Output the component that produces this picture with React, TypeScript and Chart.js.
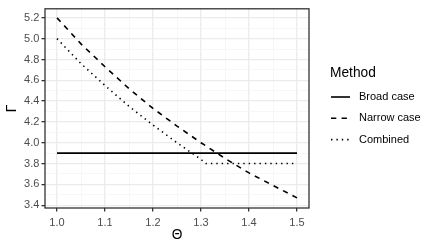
import React, { useEffect, useRef } from "react";
import { Chart, registerables } from "chart.js";

Chart.register(...registerables);

// ---- data ----
const thetaGrid = [1.0, 1.05, 1.1, 1.15, 1.2, 1.25, 1.3, 1.35, 1.4, 1.45, 1.5];
const broadCase = [3.9, 3.9, 3.9, 3.9, 3.9, 3.9, 3.9, 3.9, 3.9, 3.9, 3.9];
const narrowCase = [5.2, 4.95, 4.73, 4.52, 4.33, 4.16, 4.0, 3.85, 3.71, 3.59, 3.47];
const thetaCombined = [1.0, 1.05, 1.1, 1.15, 1.2, 1.25, 1.3, 1.31, 1.35, 1.4, 1.45, 1.5];
const combined = [5.0, 4.76, 4.55, 4.35, 4.17, 4.0, 3.84, 3.8, 3.8, 3.8, 3.8, 3.8];

const seriesNames = ["Broad case", "Narrow case", "Combined"];
const legendTitle = "Method";
const xTitle = "Θ";
const yTitle = "Γ";

const xMajor = [1.0, 1.1, 1.2, 1.3, 1.4, 1.5];
const xMinor = [1.05, 1.15, 1.25, 1.35, 1.45];
const yMajor = [3.4, 3.6, 3.8, 4.0, 4.2, 4.4, 4.6, 4.8, 5.0, 5.2];
const yMinor = [3.5, 3.7, 3.9, 4.1, 4.3, 4.5, 4.7, 4.9, 5.1];

const FONT = '"Liberation Sans", Arial, Helvetica, sans-serif';
const dashes: number[][] = [[], [5.3, 5.3], [1.4, 4]];

const isMajor = (arr: number[], v: number) => arr.some((m) => Math.abs(m - v) < 1e-6);

export default function App() {
  const ref = useRef<HTMLCanvasElement | null>(null);

  useEffect(() => {
    document.body.style.margin = "0";
    const canvas = ref.current!;
    const toPts = (xs: number[], ys: number[]) => xs.map((x, i) => ({ x, y: ys[i] }));

    const overlay = {
      id: "ggOverlay",
      afterDraw(chart: any) {
        const { ctx, chartArea } = chart;
        const { left, right, top, bottom } = chartArea;
        ctx.save();
        // panel border
        ctx.strokeStyle = "#333333";
        ctx.lineWidth = 1.3;
        ctx.setLineDash([]);
        ctx.strokeRect(left, top, right - left, bottom - top);
        // axis titles
        ctx.fillStyle = "#000000";
        ctx.font = `13.75px ${FONT}`;
        ctx.textAlign = "center";
        ctx.textBaseline = "middle";
        ctx.fillText(xTitle, (left + right) / 2, 235);
        ctx.save();
        ctx.translate(12.5, (top + bottom) / 2);
        ctx.rotate(-Math.PI / 2);
        ctx.fillText(yTitle, 0, 0);
        ctx.restore();
        // legend
        ctx.textAlign = "left";
        ctx.fillText(legendTitle, 330, 73);
        ctx.font = `11px ${FONT}`;
        chart.data.datasets.forEach((ds: any, i: number) => {
          const y = 97 + i * 21.3;
          ctx.strokeStyle = "#000000";
          ctx.lineWidth = 1.6;
          ctx.setLineDash(dashes[i]);
          ctx.beginPath();
          ctx.moveTo(331, y);
          ctx.lineTo(350, y);
          ctx.stroke();
          ctx.setLineDash([]);
          ctx.fillText(ds.label, 359, y);
        });
        ctx.restore();
      },
    };

    const chart = new Chart(canvas, {
      type: "line",
      data: {
        datasets: [
          { label: seriesNames[0], data: toPts(thetaGrid, broadCase), borderDash: dashes[0] },
          { label: seriesNames[1], data: toPts(thetaGrid, narrowCase), borderDash: dashes[1] },
          { label: seriesNames[2], data: toPts(thetaCombined, combined), borderDash: dashes[2] },
        ].map((d) => ({
          ...d,
          borderColor: "#000000",
          backgroundColor: "#000000",
          borderWidth: 1.6,
          pointRadius: 0,
          tension: 0,
          fill: false,
        })),
      },
      options: {
        responsive: false,
        animation: false,
        devicePixelRatio: 1,
        layout: { padding: { top: 6, right: 125, left: 0, bottom: 0 } },
        plugins: { legend: { display: false }, tooltip: { enabled: false }, title: { display: false } },
        scales: {
          x: {
            type: "linear",
            min: 0.975,
            max: 1.525,
            afterBuildTicks: (s: any) => {
              s.ticks = [...xMajor, ...xMinor].sort((a, b) => a - b).map((v) => ({ value: v }));
            },
            afterFit: (s: any) => {
              s.height = 41;
            },
            border: { display: false },
            grid: {
              color: (c: any) => (c.tick && isMajor(xMajor, c.tick.value) ? "#EBEBEB" : "#F3F3F3"),
              lineWidth: (c: any) => (c.tick && isMajor(xMajor, c.tick.value) ? 1.3 : 0.7),
              tickColor: (c: any) => (c.tick && isMajor(xMajor, c.tick.value) ? "#333333" : "rgba(0,0,0,0)"),
              tickWidth: 1.3,
              tickLength: 3.5,
              drawTicks: true,
            },
            ticks: {
              autoSkip: false,
              maxRotation: 0,
              padding: 5,
              color: "#4D4D4D",
              font: { family: FONT, size: 11 },
              callback: (v: any) => (isMajor(xMajor, Number(v)) ? Number(v).toFixed(1) : ""),
            },
          },
          y: {
            type: "linear",
            min: 3.373,
            max: 5.287,
            afterBuildTicks: (s: any) => {
              s.ticks = [...yMajor, ...yMinor].sort((a, b) => a - b).map((v) => ({ value: v }));
            },
            afterFit: (s: any) => {
              s.width = 45;
            },
            border: { display: false },
            grid: {
              color: (c: any) => (c.tick && isMajor(yMajor, c.tick.value) ? "#EBEBEB" : "#F3F3F3"),
              lineWidth: (c: any) => (c.tick && isMajor(yMajor, c.tick.value) ? 1.3 : 0.7),
              tickColor: (c: any) => (c.tick && isMajor(yMajor, c.tick.value) ? "#333333" : "rgba(0,0,0,0)"),
              tickWidth: 1.3,
              tickLength: 3.5,
              drawTicks: true,
            },
            ticks: {
              autoSkip: false,
              padding: 2.2,
              color: "#4D4D4D",
              font: { family: FONT, size: 11 },
              callback: (v: any) => (isMajor(yMajor, Number(v)) ? Number(v).toFixed(1) : ""),
            },
          },
        },
      },
      plugins: [overlay],
    } as any);

    return () => chart.destroy();
  }, []);

  return (
    <div style={{ width: 434, height: 249 }}>
      <canvas ref={ref} width={434} height={249} style={{ display: "block" }} />
    </div>
  );
}
